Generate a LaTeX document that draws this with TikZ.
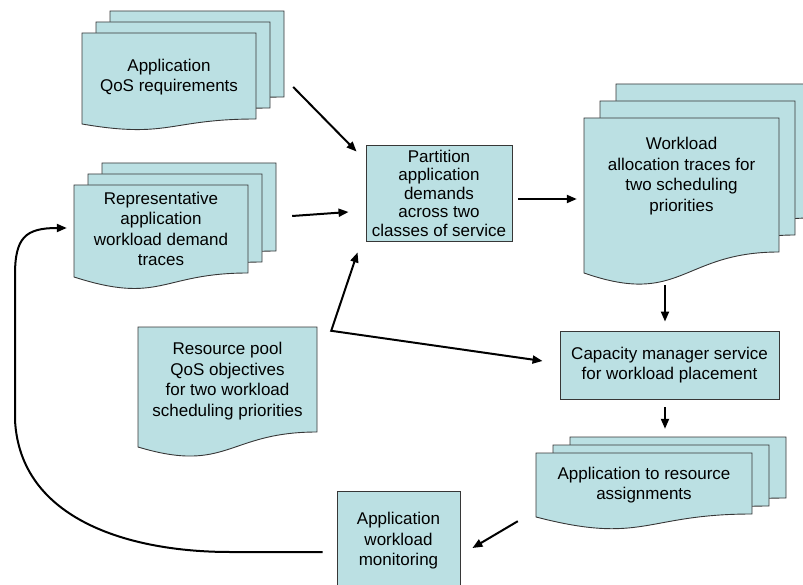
\documentclass[tikz,border=0pt]{standalone}
\usepackage{fontspec}
\setmainfont{Liberation Sans}
\usetikzlibrary{arrows.meta}

\definecolor{docfill}{RGB}{187,224,227}
\definecolor{docline}{RGB}{55,55,55}

\tikzset{
  docshape/.style={fill=docfill, draw=docline, line width=0.9pt},
  doctext/.style={align=center, inner sep=0pt, font=\fontsize{17}{20.5}\selectfont},
  procbox/.style={doctext, docshape, inner sep=2pt},
  flow/.style={line width=2pt, -{Triangle[length=10pt,width=8pt]}},
  flowboth/.style={line width=2pt, {Triangle[length=10pt,width=8pt]}-{Triangle[length=10pt,width=8pt]}},
}

% one page of a document: x, y, width, left depth, right depth, dip
\newcommand{\docpage}[6]{%
  \filldraw[docshape] (#1,#2) -- ++(#3,0) -- ++(0,#5)
    .. controls ({#1+0.5*#3},{#2+#5}) and ({#1+0.5*#3},{#2+#4+#6}) .. (#1,{#2+#4}) -- cycle;}

\begin{document}
\begin{tikzpicture}[x=1pt,y=-1pt]
	\useasboundingbox (0,0) rectangle (803,585);

	% document stacks
	\foreach \s in {2,1,0}
	\docpage{82+14*\s}{33-11*\s}{174}{91}{86}{15};
	\foreach \s in {2,1,0}
	\docpage{74+14*\s}{185-11*\s}{174}{92}{88}{28};
	\foreach \s in {2,1,0}
	\docpage{584+16*\s}{118-17*\s}{195}{155}{134}{34};
	\foreach \s in {2,1,0}
	\docpage{536+17*\s}{453-8*\s}{216}{64}{61}{28};
	\docpage{138}{327}{179}{120}{105}{27};

	% texts of the documents
	\node[doctext, minimum width=174, minimum height=88] (qos) at (169,77) {Application\\QoS requirements};
	\node[doctext, minimum width=174, minimum height=88] (rep) at (161,229) {Representative\\application\\workload demand\\traces};
	\node[doctext, minimum width=195, minimum height=116] (wl) at (681.5,176) {Workload\\allocation traces for\\two scheduling\\priorities};
	\node[doctext, minimum width=179, minimum height=108] (pool) at (227.5,381) {Resource pool\\QoS objectives\\for two workload\\scheduling priorities};
	\node[doctext, minimum width=216, minimum height=64] (asg) at (644,485) {Application to resource\\assignments};

	% process boxes
	\node[procbox, font=\fontsize{17}{18.5}\selectfont, minimum width=146, minimum height=96] (part) at (439,193) {Partition\\application\\demands\\across two\\classes of service};
	\node[procbox, minimum width=219, minimum height=68] (cap) at (669.5,365) {Capacity manager service\\for workload placement};
	\node[procbox, minimum width=123, minimum height=100] (mon) at (398.5,541) {Application\\workload\\monitoring};

	% connectors
	\draw[flow] ([xshift=37pt,yshift=-10pt]qos.east) -- ([xshift=-9pt,yshift=-7pt]part.north west);
	\draw[flow] ([xshift=44pt,yshift=13pt]rep.east) -- ([xshift=-17pt,yshift=-19pt]part.west);
	\draw[flowboth] ([xshift=-8pt,yshift=-11pt]part.south west) -- ([xshift=14pt,yshift=-4pt]pool.north east) -- ([xshift=-17pt,yshift=4pt]cap.west);
	\draw[flow] ([xshift=6pt,yshift=-6pt]part.east) -- ([xshift=-7pt,yshift=-23pt]wl.west);
	\draw[flow] ([xshift=-16.5pt,yshift=-51pt]wl.south) -- ([xshift=-4.5pt,yshift=9pt]cap.north);
	\draw[flow] ([xshift=-4.5pt,yshift=-8pt]cap.south) -- ([xshift=21pt,yshift=24pt]asg.north);
	\draw[flow] ([xshift=-18pt,yshift=-4pt]asg.south west) -- ([xshift=12pt,yshift=-7pt]mon.east);

	% feedback loop
	\draw[flow] ([xshift=-14pt,yshift=-11pt]mon.west) -- (230,552)
	.. controls (130,552) and (20,520) .. (15,420) -- (15,275)
	.. controls (15,238) and (25,228) .. ([xshift=-7pt,yshift=1pt]rep.west);
\end{tikzpicture}
\end{document}
